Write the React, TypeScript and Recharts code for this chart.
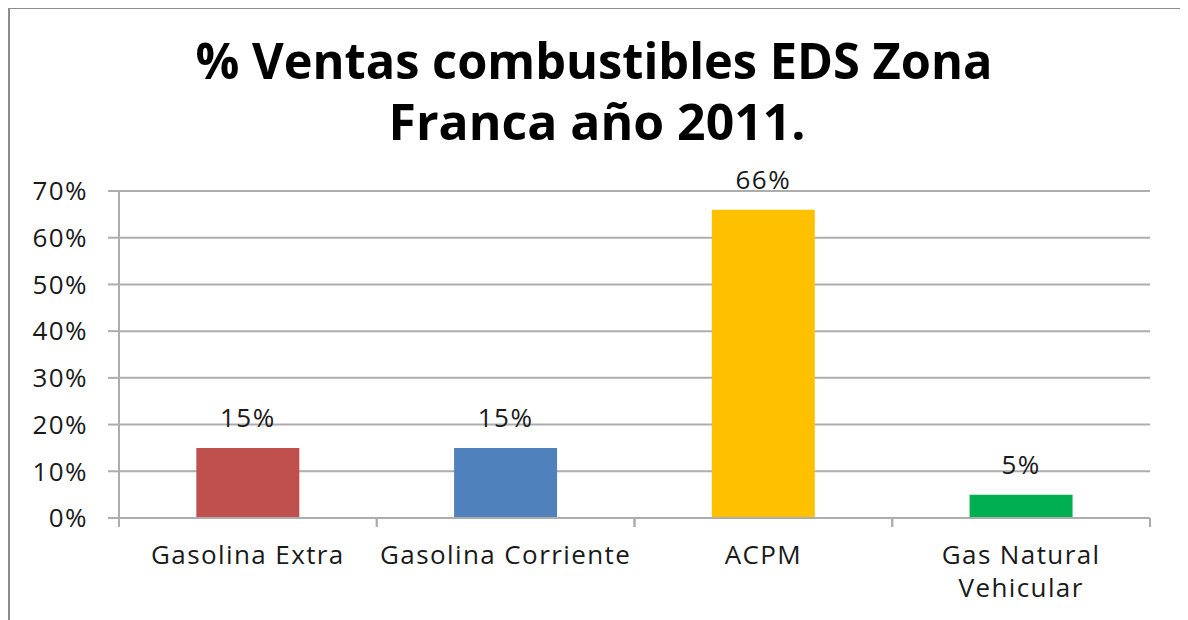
import React from "react";
import { BarChart, Bar, XAxis, YAxis, CartesianGrid, Cell, LabelList } from "recharts";

const categories = ["Gasolina Extra", "Gasolina Corriente", "ACPM", "Gas Natural Vehicular"];
const shares = [15, 15, 66, 5];
const barColors = ["#C0504D", "#4F81BD", "#FFC000", "#00B050"];
const yTicks = [0, 10, 20, 30, 40, 50, 60, 70];
const titleLines = ["% Ventas combustibles EDS Zona", "Franca año 2011."];

const data = categories.map((name, i) => ({ name, value: shares[i] }));

const FONT = "'Open Sans', 'DejaVu Sans', sans-serif";
const GRID = "#ADADAD";
const TXT = "#1a1a1a";
const FS = 26;
const LS = 1.4;

const wrap = (s: string): string[] => {
  if (s.length <= 19) return [s];
  const idx = s.lastIndexOf(" ");
  return [s.slice(0, idx), s.slice(idx + 1)];
};

const XTick = (props: any) => {
  const { x, y, payload, visibleTicksCount, width } = props;
  let half = payload && payload.offset ? payload.offset : 0;
  if (!half && width && visibleTicksCount) half = width / visibleTicksCount / 2;
  const lines = wrap(String(payload.value));
  return (
    <g>
      <line x1={x - half} x2={x - half} y1={y} y2={y + 9} stroke={GRID} strokeWidth={2} />
      <line x1={x + half} x2={x + half} y1={y} y2={y + 9} stroke={GRID} strokeWidth={2} />
      <text
        x={x}
        y={y + 46}
        textAnchor="middle"
        fontFamily={FONT}
        fontSize={FS}
        letterSpacing={LS}
        fill={TXT}
      >
        {lines.map((l, i) => (
          <tspan key={i} x={x} dy={i === 0 ? 0 : 33}>
            {l}
          </tspan>
        ))}
      </text>
    </g>
  );
};

export default function App() {
  return (
    <div
      style={{
        position: "relative",
        width: 1176,
        height: 640,
        border: "2px solid #8C8C8C",
        boxSizing: "border-box",
        marginTop: -1,
        background: "#fff",
      }}
    >
      <svg width={1172} height={160} style={{ position: "absolute", left: 0, top: 0 }}>
        <text x={584} y={70} textAnchor="middle" fontFamily={FONT} fontWeight="bold" fontSize={50} fill="#000" textLength={797} lengthAdjust="spacingAndGlyphs">
          {titleLines[0]}
        </text>
        <text x={587} y={131} textAnchor="middle" fontFamily={FONT} fontWeight="bold" fontSize={50} fill="#000" textLength={417} lengthAdjust="spacingAndGlyphs">
          {titleLines[1]}
        </text>
      </svg>
      <div style={{ position: "absolute", left: 0, top: 0 }}>
        <BarChart
          width={1172}
          height={620}
          data={data}
          margin={{ top: 182, right: 32, left: 0, bottom: 11 }}
          barCategoryGap="30%"
        >
          <CartesianGrid horizontal vertical={false} stroke={GRID} strokeWidth={2} />
          <YAxis
            width={109}
            domain={[0, 70]}
            ticks={yTicks}
            interval={0}
            tickFormatter={(v: number) => `${v}%`}
            tickSize={11}
            tickMargin={20}
            axisLine={{ stroke: GRID, strokeWidth: 2 }}
            tickLine={{ stroke: GRID, strokeWidth: 2 }}
            tick={{ fontFamily: FONT, fontSize: FS, fill: TXT, letterSpacing: LS }}
          />
          <XAxis
            dataKey="name"
            height={100}
            interval={0}
            tickSize={0}
            tickMargin={0}
            tickLine={false}
            axisLine={{ stroke: GRID, strokeWidth: 2 }}
            tick={<XTick />}
          />
          <Bar dataKey="value" isAnimationActive={false}>
            {data.map((d, i) => (
              <Cell key={d.name} fill={barColors[i]} />
            ))}
            <LabelList
              dataKey="value"
              position="top"
              offset={21}
              formatter={(v: any) => `${v}%`}
              style={{ fontFamily: FONT, fontSize: FS, fill: TXT, letterSpacing: LS }}
            />
          </Bar>
        </BarChart>
      </div>
    </div>
  );
}
